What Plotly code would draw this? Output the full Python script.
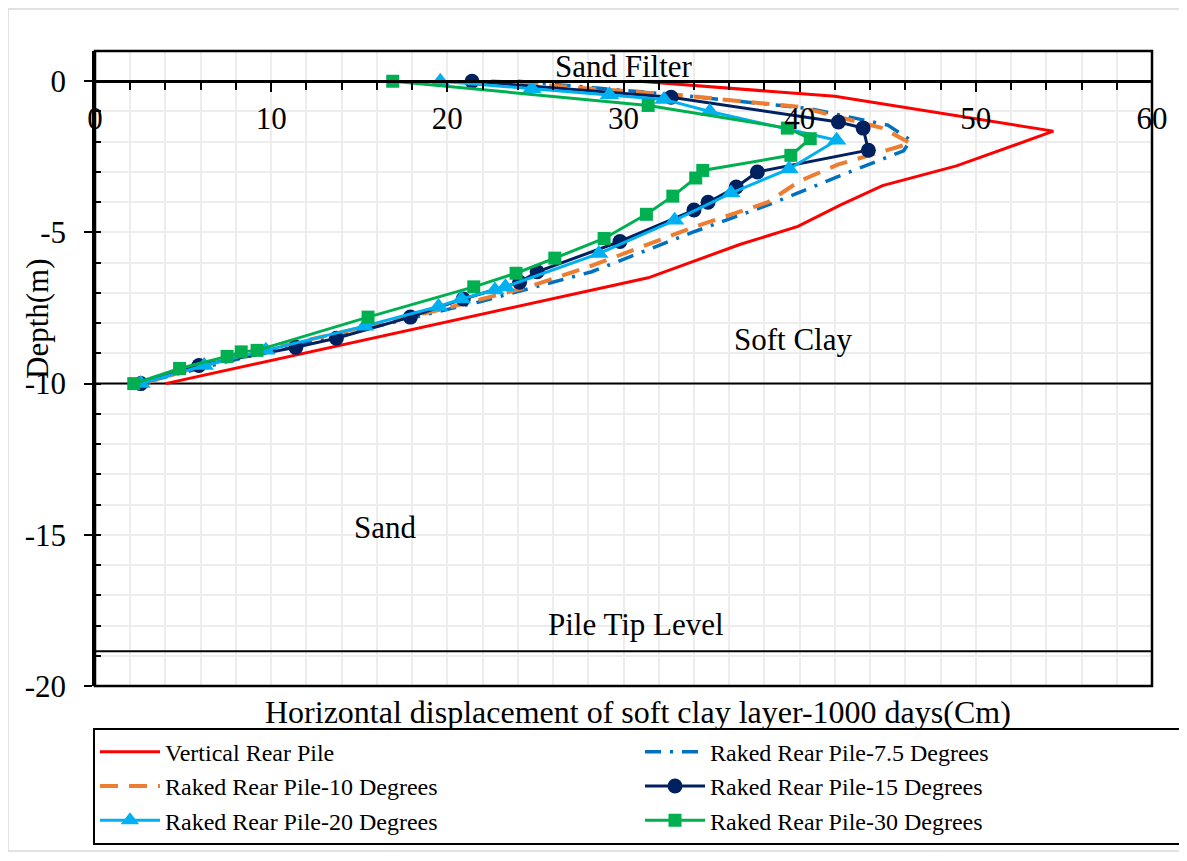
import plotly.graph_objects as go

# ---------------- data ----------------
vertical_x = [30.9, 42.0, 54.4, 48.9, 44.7, 42.3, 39.9, 36.6, 31.4, 4.0]
vertical_y = [0, -0.5, -1.65, -2.8, -3.45, -4.1, -4.8, -5.4, -6.5, -10]

rake75_x = [24.0, 33.0, 40.5, 45.0, 46.3, 45.9, 42.4, 38.4, 33.9, 28.2, 21.8, 14.5, 8.0, 2.5]
rake75_y = [0, -0.45, -0.9, -1.45, -1.95, -2.3, -3.1, -4.05, -5.0, -6.3, -7.3, -8.3, -9.2, -10]

rake10_x = [22.5, 33.0, 40.0, 44.7, 46.3, 42.2, 40.0, 38.2, 34.1, 28.2, 24.6, 20.0, 14.0, 8.0, 2.7]
rake10_y = [0, -0.45, -0.85, -1.55, -2.05, -2.75, -3.3, -4.0, -4.8, -6.1, -6.8, -7.5, -8.3, -9.1, -10]

rake15_x = [21.4, 32.7, 42.2, 43.6, 43.9, 37.6, 36.4, 34.8, 34.0, 29.8, 25.1, 24.1, 20.9, 17.9, 13.7, 11.4, 5.9, 2.6]
rake15_y = [0, -0.53, -1.35, -1.55, -2.28, -3.0, -3.5, -4.0, -4.26, -5.3, -6.3, -6.65, -7.2, -7.8, -8.5, -8.8, -9.4, -10]

rake20_x = [19.6, 24.8, 29.2, 32.3, 34.9, 42.1, 39.4, 36.1, 32.9, 28.6, 23.3, 22.7, 20.8, 19.5, 15.3, 9.7, 6.2, 2.6]
rake20_y = [0, -0.25, -0.45, -0.6, -1.0, -1.95, -2.9, -3.7, -4.6, -5.7, -6.8, -6.9, -7.2, -7.45, -8.1, -8.9, -9.4, -10]

rake30_x = [16.9, 31.4, 39.3, 40.6, 39.5, 34.5, 34.1, 32.8, 31.3, 28.9, 26.1, 23.9, 21.5, 15.5, 9.2, 8.3, 7.5, 4.8, 2.2]
rake30_y = [0, -0.8, -1.55, -1.9, -2.45, -2.95, -3.2, -3.8, -4.4, -5.2, -5.85, -6.35, -6.8, -7.8, -8.9, -8.95, -9.1, -9.5, -10]

layer_levels = [-10, -18.85]
layer_labels = ["Sand Filter", "Soft Clay", "Sand", "Pile Tip Level"]
layer_label_x = [30.0, 39.6, 16.5, 30.7]
layer_label_y = [0.5, -8.55, -14.75, -17.95]

y_tick_vals = [0, -5, -10, -15, -20]
y_tick_text = ["0", "-5", "-10", "-15", "-20"]
x_range = [0, 60]

FONT = "Liberation Serif, Times New Roman, serif"

fig = go.Figure()

# layer boundary lines (drawn first, beneath the data)
for lv in layer_levels:
    fig.add_trace(go.Scatter(x=x_range, y=[lv, lv], mode="lines", showlegend=False,
                             hoverinfo="skip", line=dict(color="black", width=2)))

fig.add_trace(go.Scatter(x=vertical_x, y=vertical_y, mode="lines", name="Vertical Rear Pile",
                         line=dict(color="#FF0000", width=3)))
fig.add_trace(go.Scatter(x=rake75_x, y=rake75_y, mode="lines", name="Raked Rear Pile-7.5 Degrees",
                         line=dict(color="#0070C0", width=3.5, dash="16px,9px,3px,9px")))
fig.add_trace(go.Scatter(x=rake10_x, y=rake10_y, mode="lines", name="Raked Rear Pile-10 Degrees",
                         line=dict(color="#ED7D31", width=4, dash="18px,11px")))
fig.add_trace(go.Scatter(x=rake15_x, y=rake15_y, mode="lines+markers", name="Raked Rear Pile-15 Degrees",
                         line=dict(color="#002060", width=3),
                         marker=dict(symbol="circle", size=15, color="#002060")))
fig.add_trace(go.Scatter(x=rake20_x, y=rake20_y, mode="lines+markers", name="Raked Rear Pile-20 Degrees",
                         line=dict(color="#00B0F0", width=3),
                         marker=dict(symbol="triangle-up", size=17, color="#00B0F0")))
fig.add_trace(go.Scatter(x=rake30_x, y=rake30_y, mode="lines+markers", name="Raked Rear Pile-30 Degrees",
                         line=dict(color="#00B050", width=3),
                         marker=dict(symbol="square", size=13, color="#00B050")))

shapes = [
    # plot-area frame
    dict(type="rect", xref="paper", yref="paper", x0=0, x1=1, y0=0, y1=1,
         line=dict(color="black", width=2.5), layer="above"),
    # outer chart border
    dict(type="rect", xref="paper", yref="paper", x0=-0.0823, x1=1.0265, y0=-0.26, y1=1.066,
         line=dict(color="#D9D9D9", width=1.5), layer="below"),
]

annotations = []
for t, ax, ay in zip(layer_labels, layer_label_x, layer_label_y):
    annotations.append(dict(text=t, x=ax, y=ay, xref="x", yref="y", showarrow=False,
                            font=dict(family=FONT, size=31, color="black")))
annotations.append(dict(text="Horizontal displacement of soft clay layer-1000 days(Cm)",
                        x=0.514, y=-0.0415, xref="paper", yref="paper", showarrow=False,
                        xanchor="center", yanchor="middle",
                        font=dict(family=FONT, size=32, color="black")))
annotations.append(dict(text="Depth(m)", x=-0.0549, y=0.5795, xref="paper", yref="paper",
                        showarrow=False, textangle=-90, xanchor="center", yanchor="middle",
                        font=dict(family=FONT, size=31, color="black")))

grid_c = "#EDEDED"
# the page body adds an 8px offset, so the figure origin sits at (8, 8) in the window
fig.update_layout(
    width=1179, height=853,
    margin=dict(l=87, r=35, t=43, b=175),
    paper_bgcolor="white", plot_bgcolor="white",
    font=dict(family=FONT, color="black"),
    shapes=shapes, annotations=annotations,
    xaxis=dict(range=x_range, anchor="free", position=0.9528, side="bottom",
               automargin=False,
               showline=True, linecolor="black", linewidth=2.5,
               ticks="outside", ticklen=9, tickwidth=2, tickcolor="black",
               tick0=0, dtick=10, showgrid=True, gridcolor=grid_c, gridwidth=1.5,
               zeroline=False, ticklabelstandoff=0,
               tickfont=dict(family=FONT, size=31, color="black"),
               minor=dict(dtick=2, ticks="outside", ticklen=7, tickwidth=2, tickcolor="black",
                          showgrid=True, gridcolor=grid_c, gridwidth=1.5)),
    yaxis=dict(range=[-20, 1], automargin=False,
               showline=True, linecolor="black", linewidth=2.5,
               ticks="outside", ticklen=8, tickwidth=2, tickcolor="black",
               tickmode="array", tickvals=y_tick_vals, ticktext=y_tick_text,
               showgrid=True, gridcolor=grid_c, gridwidth=1.5,
               zeroline=False, ticklabelstandoff=12,
               tickfont=dict(family=FONT, size=31, color="black"),
               minor=dict(tickmode="linear", tick0=0, dtick=1, ticks="inside", ticklen=6,
                          tickwidth=2, tickcolor="black",
                          showgrid=True, gridcolor=grid_c, gridwidth=1.5)),
    legend=dict(orientation="h", x=-0.001, y=-0.25, xanchor="left", yanchor="bottom",
                bordercolor="black", borderwidth=2, bgcolor="white",
                font=dict(family=FONT, size=24, color="black"),
                entrywidth=470, entrywidthmode="pixels", itemwidth=60),
)

fig.write_html("out.html")
